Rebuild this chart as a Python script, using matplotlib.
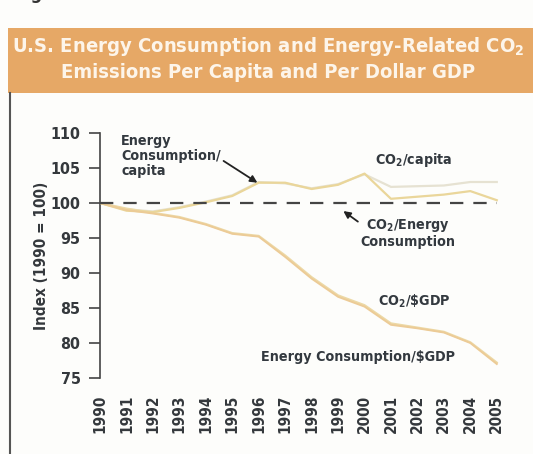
import matplotlib.pyplot as plt
from matplotlib.patches import Rectangle
from matplotlib.lines import Line2D

years = list(range(1990, 2006))

# index values, 1990 = 100
co2_per_capita = [100, 98.9, 98.7, 99.3, 100.1, 101.0, 102.9, 102.9, 102.0, 102.6,
                  104.2, 100.6, 100.9, 101.2, 101.7, 100.4]
energy_per_capita = [100, 99.1, 98.8, 99.4, 100.2, 101.1, 103.0, 102.8, 102.1, 102.7,
                     104.1, 102.3, 102.4, 102.5, 103.0, 103.0]
co2_per_energy = [100, 100, 100, 100, 100, 100, 100, 100, 100, 100,
                  100, 100, 100, 100, 100, 100]
co2_per_gdp = [100, 99.0, 98.5, 97.9, 96.9, 95.6, 95.2, 92.3, 89.2, 86.6,
               85.2, 82.6, 82.1, 81.5, 80.0, 77.0]
energy_per_gdp = [100, 99.2, 98.6, 98.0, 97.0, 95.7, 95.3, 92.5, 89.4, 86.8,
                  85.4, 82.8, 82.2, 81.6, 80.1, 77.2]

y_ticks = [75, 80, 85, 90, 95, 100, 105, 110]

plt.rcParams['font.family'] = ['DejaVu Sans']
plt.rcParams['font.stretch'] = 'condensed'
plt.rcParams['font.weight'] = 'bold'
plt.rcParams['mathtext.fontset'] = 'custom'
plt.rcParams['mathtext.rm'] = 'DejaVu Sans:bold'
plt.rcParams['mathtext.bf'] = 'DejaVu Sans:bold'

W, H = 533, 454
fig = plt.figure(figsize=(W / 100, H / 100), dpi=100)
fig.patch.set_facecolor('#fdfdfb')

# title banner
fig.patches.append(Rectangle((8 / W, 1 - 93 / H), 1 - 8 / W, 65 / H,
                             transform=fig.transFigure, facecolor='#e6a866',
                             edgecolor='none', zorder=0))
fig.text(268 / W, 1 - 47 / H, 'U.S. Energy Consumption and Energy-Related CO$_\\mathbf{2}$',
         ha='center', va='center', color='#fdf5ea', fontsize=14.5)
fig.text(268 / W, 1 - 72 / H, 'Emissions Per Capita and Per Dollar GDP',
         ha='center', va='center', color='#fdf5ea', fontsize=14.5)
fig.text(14 / W, 1 + 6 / H, 'Figure 3-10', ha='left', va='center',
         color='#333333', fontsize=13)

# panel border
fig.lines.append(Line2D([10 / W, 10 / W], [0, 1 - 93 / H], transform=fig.transFigure,
                        color='#555555', lw=1.5))

ax = fig.add_axes([100 / W, 1 - 378 / H, 410 / W, 245 / H])
ax.set_facecolor('none')

ax.plot(years, energy_per_capita, color='#e6e2d2', lw=1.6, zorder=2)
ax.plot(years, co2_per_capita, color='#ead69a', lw=1.6, zorder=3)
ax.plot(years, energy_per_gdp, color='#ecd9a6', lw=1.6, zorder=2)
ax.plot(years, co2_per_gdp, color='#eccb96', lw=1.4, zorder=3)
ax.plot(years, co2_per_energy, color='#444444', lw=1.6, dashes=(6, 4.5), zorder=4)

ax.set_xlim(1990, 2005.5)
ax.set_ylim(75, 110)
ax.set_yticks(y_ticks)
ax.set_xticks(years)
ax.set_xticklabels([str(y) for y in years], rotation=90)
ax.tick_params(axis='y', length=8, width=1.2, color='#444444', pad=6,
               labelsize=11.5, labelcolor='#34383c')
ax.tick_params(axis='x', length=0, pad=12, labelsize=11, labelcolor='#34383c')
for side in ['top', 'right', 'bottom']:
    ax.spines[side].set_visible(False)
ax.spines['left'].set_color('#444444')
ax.spines['left'].set_linewidth(1.2)
ax.set_ylabel('Index (1990 = 100)', fontsize=11, color='#34383c', labelpad=1,
              fontweight='bold')

txt = dict(color='#33393f', fontsize=10.3, linespacing=1.05)
ax.annotate('Energy\nConsumption/\ncapita', xy=(1995.95, 102.9), xytext=(1990.8, 109.8),
            ha='left', va='top',
            arrowprops=dict(arrowstyle='-|>', color='#222222', lw=1.3,
                            shrinkA=0, shrinkB=0,
                            relpos=(0.95, 0.5)), **txt)
ax.text(2000.4, 106.2, 'CO$_\\mathbf{2}$/capita', ha='left', va='center', **txt)
ax.annotate('CO$_\\mathbf{2}$/Energy\nConsumption', xy=(1999.2, 98.85), xytext=(2001.65, 95.7),
            ha='center', va='center',
            arrowprops=dict(arrowstyle='-|>', color='#222222', lw=1.3,
                            shrinkA=0, shrinkB=0, relpos=(0.0, 0.8)), **txt)
ax.text(2000.5, 86.0, 'CO$_\\mathbf{2}$/\\$GDP', ha='left', va='center', **txt)
ax.text(1996.1, 78.0, 'Energy Consumption/$GDP', ha='left', va='center', **txt)

fig.savefig('out.png', dpi=100, facecolor=fig.get_facecolor())
